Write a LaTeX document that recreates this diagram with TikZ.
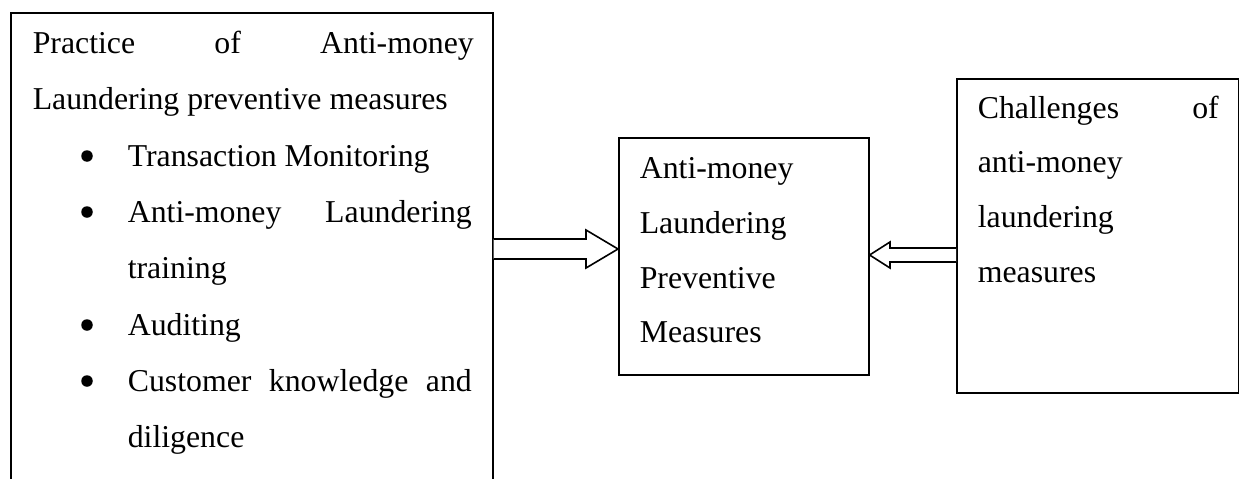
\documentclass[tikz,border=0pt]{standalone}
\usepackage{fontspec}
\setmainfont{Liberation Serif}
\usetikzlibrary{calc}
\begin{document}
\begin{tikzpicture}[x=1pt,y=-1pt, line width=1.6pt,
  txt/.style={anchor=base west, inner sep=0pt, font=\fontsize{31.8}{38}\selectfont},
  dot/.style={circle, fill=black, draw=none, inner sep=0pt, minimum size=11.5pt},
  box/.style={draw, anchor=north west, inner sep=0pt},
  blockarrow/.style={draw, line width=1.6pt, fill=white, line join=miter}]
\useasboundingbox (0,0) rectangle (1239,479);
% boxes
\node[box, minimum width=482pt, minimum height=490pt] (L) at (10,12) {};
\node[box, minimum width=250pt, minimum height=237pt] (M) at (618,137) {};
\node[box, minimum width=282pt, minimum height=314pt] (R) at (956,78) {};
% left box text
\node[txt] (l1) at (32,53) {\hbox to 441pt{Practice\hfill of\hfill Anti-money}};
\node[txt] (l2) at (32,109) {Laundering preventive measures};
\node[dot] (b1) at (87,156) {};
\node[txt] (l3) at (127,166) {Transaction Monitoring};
\node[dot] (b2) at (87,212) {};
\node[txt] (l4) at (127,222) {\hbox to 344pt{Anti-money\hfill Laundering}};
\node[txt] (l5) at (127,278) {training};
\node[dot] (b3) at (87,325) {};
\node[txt] (l6) at (127,335) {Auditing};
\node[dot] (b4) at (87,381) {};
\node[txt] (l7) at (127,391) {\hbox to 344pt{Customer\hfill knowledge\hfill and}};
\node[txt] (l8) at (127,447) {diligence};
% middle box text
\node[txt] (m1) at (639,178) {Anti-money};
\node[txt] (m2) at (639,233) {Laundering};
\node[txt] (m3) at (639,288) {Preventive};
\node[txt] (m4) at (639,342) {Measures};
% right box text
\node[txt] (r1) at (977,118) {\hbox to 241pt{Challenges\hfill of}};
\node[txt] (r2) at (977,172) {anti-money};
\node[txt] (r3) at (977,227) {laundering};
\node[txt] (r4) at (977,282) {measures};
% block arrows
\draw[blockarrow] (L.east |- 0,239) -- (586,239) -- (586,230) -- (M.west |- 0,249)
  -- (586,268) -- (586,259) -- (L.east |- 0,259);
\draw[blockarrow] (R.west |- 0,248) -- (890,248) -- (890,242) -- (M.east |- 0,255)
  -- (890,268) -- (890,262) -- (R.west |- 0,262);
\end{tikzpicture}
\end{document}
